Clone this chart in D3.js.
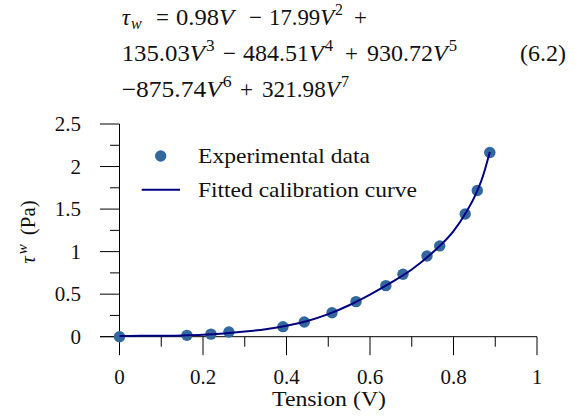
<!DOCTYPE html>
<html>
<head>
<meta charset="utf-8">
<script src="https://cdn.jsdelivr.net/npm/d3@7"></script>
<style>
  html, body { margin: 0; padding: 0; background: #fff; }
  svg { display: block; }
  text { font-family: "Liberation Serif", "Times New Roman", serif; fill: #111; }
</style>
</head>
<body>
<div id="chart"></div>
<script>
// Calibration measurements: wire tension (V) vs wall shear stress (Pa)
const tension = [0, 0.1615, 0.219, 0.262, 0.3915, 0.4426, 0.509, 0.5665, 0.638, 0.679, 0.7365, 0.767, 0.828, 0.857, 0.887];
const shear   = [0, 0.016, 0.030, 0.055, 0.118, 0.173, 0.282, 0.412, 0.600, 0.734, 0.949, 1.067, 1.443, 1.718, 2.165];

// Fitted calibration curve, sampled along the tension range
const fitTension = [0, 0.05, 0.1, 0.15, 0.2, 0.25, 0.3, 0.35, 0.4, 0.45, 0.5, 0.55, 0.6, 0.65, 0.7, 0.75, 0.8, 0.83, 0.85, 0.87, 0.887];
const fitShear   = [0.008, 0.010, 0.011, 0.014, 0.022, 0.038, 0.060, 0.088, 0.128, 0.185, 0.265, 0.370, 0.495, 0.635, 0.790, 0.990, 1.240, 1.460, 1.640, 1.880, 2.170];

const xMajor = [0, 0.2, 0.4, 0.6, 0.8, 1];
const xMinor = [0.1, 0.3, 0.5, 0.7, 0.9];
const yMajor = [0, 0.5, 1, 1.5, 2, 2.5];
const yMinor = [0.25, 0.75, 1.25, 1.75, 2.25];

const legendLabels = ["Experimental data", "Fitted calibration curve"];

const W = 579, H = 416;
const svg = d3.select("#chart").append("svg").attr("width", W).attr("height", H);

const x = d3.scaleLinear().domain([0, 1]).range([119.5, 537]);
const y = d3.scaleLinear().domain([0, 2.5]).range([336.7, 124]);

const markColor = "#33689f";
const lineColor = "#000080";

// ---- equation block above the plot ----
const eq = svg.append("g").attr("font-size", 23);
function seg(line, x0, len, parts) {
  const t = eq.append("text").attr("x", x0).attr("y", line);
  if (len) t.attr("textLength", len).attr("lengthAdjust", "spacingAndGlyphs");
  parts.forEach(p => {
    const ts = t.append("tspan").text(p.t);
    if (p.it) ts.attr("font-style", "italic");
    if (p.sz) ts.attr("font-size", p.sz);
    if (p.dx) ts.attr("dx", p.dx);
    if (p.dy) ts.attr("dy", p.dy);
  });
}
const sup = d => ({t: d, sz: 16, dx: 1, dy: -10});
const L1 = 25, L2 = 61, L3 = 97;
// line 1
seg(L1, 121.7, 0, [{t: "τ", it: 1}, {t: "w", it: 1, sz: 16, dx: 1, dy: 4}]);
seg(L1, 156, 0, [{t: "="}]);
seg(L1, 176, 58, [{t: "0.98"}, {t: "V", it: 1}]);
seg(L1, 249, 0, [{t: "−"}]);
seg(L1, 269, 74, [{t: "17.99"}, {t: "V", it: 1}, sup("2")]);
seg(L1, 354, 0, [{t: "+"}]);
// line 2
seg(L2, 121.7, 93, [{t: "135.03"}, {t: "V", it: 1}, sup("3")]);
seg(L2, 223, 0, [{t: "−"}]);
seg(L2, 243, 90, [{t: "484.51"}, {t: "V", it: 1}, sup("4")]);
seg(L2, 345, 0, [{t: "+"}]);
seg(L2, 367, 90, [{t: "930.72"}, {t: "V", it: 1}, sup("5")]);
seg(L2, 520, 46, [{t: "(6.2)"}]);
// line 3
seg(L3, 121.7, 110, [{t: "−875.74"}, {t: "V", it: 1}, sup("6")]);
seg(L3, 240, 0, [{t: "+"}]);
seg(L3, 262, 87, [{t: "321.98"}, {t: "V", it: 1}, sup("7")]);

// ---- axes ----
const ax = svg.append("g").attr("stroke", "#000").attr("stroke-width", 1).attr("fill", "none");
// y axis line and ticks
ax.append("line").attr("x1", x(0)).attr("x2", x(0)).attr("y1", y(2.5)).attr("y2", y(0));
ax.selectAll(".ymaj").data(yMajor).join("line")
  .attr("x1", 100).attr("x2", x(0)).attr("y1", d => y(d)).attr("y2", d => y(d));
ax.selectAll(".ymin").data(yMinor).join("line")
  .attr("x1", 110).attr("x2", x(0)).attr("y1", d => y(d)).attr("y2", d => y(d));
// x axis line at zero, ticks pointing down
ax.append("line").attr("x1", 100).attr("x2", x(1)).attr("y1", y(0)).attr("y2", y(0));
ax.selectAll(".xmaj").data(xMajor).join("line")
  .attr("x1", d => x(d)).attr("x2", d => x(d)).attr("y1", y(0)).attr("y2", y(0) + 18.5);
ax.selectAll(".xmin").data(xMinor).join("line")
  .attr("x1", d => x(d)).attr("x2", d => x(d)).attr("y1", y(0)).attr("y2", y(0) + 10);

// tick labels
svg.append("g").attr("font-size", 21).attr("text-anchor", "end")
  .selectAll("text").data(yMajor).join("text")
  .attr("x", 81).attr("y", d => y(d) + 7.3)
  .text(d => d3.format("~g")(d));
svg.append("g").attr("font-size", 21).attr("text-anchor", "middle")
  .selectAll("text").data(xMajor).join("text")
  .attr("x", d => x(d)).attr("y", 384)
  .text(d => d3.format("~g")(d));

// axis titles
svg.append("text").attr("x", 272).attr("y", 406)
  .attr("font-size", 21).attr("textLength", 114).attr("lengthAdjust", "spacingAndGlyphs")
  .text("Tension (V)");
const yl = svg.append("text").attr("transform", "translate(35,232) rotate(-90)")
  .attr("text-anchor", "middle").attr("font-size", 21);
yl.append("tspan").attr("font-style", "italic").text("τ");
yl.append("tspan").attr("font-style", "italic").attr("font-size", 15).attr("dx", 2).attr("dy", -8).text("w");
yl.append("tspan").attr("dx", 9).attr("dy", 8).text("(Pa)");

// ---- data ----
const pts = tension.map((v, i) => [v, shear[i]]);
const fit = fitTension.map((v, i) => [v, fitShear[i]]);

svg.append("g").selectAll("circle").data(pts).join("circle")
  .attr("cx", d => x(d[0])).attr("cy", d => y(d[1])).attr("r", 5.7)
  .attr("fill", markColor);

svg.append("path").datum(fit)
  .attr("d", d3.line().x(d => x(d[0])).y(d => y(d[1])).curve(d3.curveMonotoneX))
  .attr("fill", "none").attr("stroke", lineColor).attr("stroke-width", 2);

// ---- legend ----
const legendWidths = [172, 219];
const lg = svg.append("g");
lg.append("circle").attr("cx", 160.7).attr("cy", 156).attr("r", 5.7).attr("fill", markColor);
lg.append("line").attr("x1", 141.7).attr("x2", 180).attr("y1", 189.7).attr("y2", 189.7)
  .attr("stroke", lineColor).attr("stroke-width", 2);
lg.selectAll("text").data(legendLabels).join("text")
  .attr("x", 198).attr("y", (d, i) => 163 + i * 34)
  .attr("font-size", 21)
  .attr("textLength", (d, i) => legendWidths[i]).attr("lengthAdjust", "spacingAndGlyphs")
  .text(d => d);
</script>
</body>
</html>
